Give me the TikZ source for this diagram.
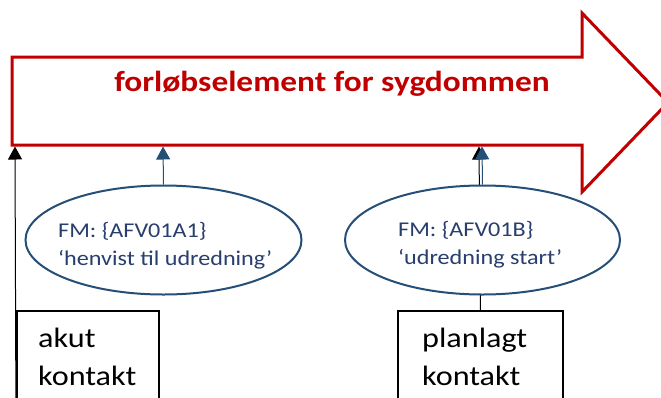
\documentclass[tikz,border=0pt]{standalone}
\usepackage{fontspec}
\setmainfont{Carlito}[FakeStretch=1.15]
\usetikzlibrary{arrows.meta,shapes.geometric}
\definecolor{flowred}{RGB}{192,0,0}
\definecolor{fmblue}{RGB}{38,79,120}
\definecolor{fmtext}{RGB}{40,62,108}
\begin{document}
\begin{tikzpicture}[x=1pt,y=-1pt,
  bigarrow/.style={draw=flowred,line width=3pt,fill=white,line join=miter},
  titletext/.style={text=flowred,font=\bfseries\fontsize{29}{35}\selectfont,inner sep=0pt},
  fmellipse/.style={draw=fmblue,line width=2pt,fill=white},
  fmlabel/.style={text=fmtext,font=\fontsize{21}{28}\selectfont,align=left,inner sep=0pt},
  contactbox/.style={draw=black,line width=1.8pt,fill=white},
  contacttext/.style={font=\fontsize{28}{38}\selectfont,align=left,inner sep=0pt},
  blackarrow/.style={draw=black,line width=1pt,-{Triangle[width=14pt,length=13pt]}},
  bluearrow/.style={draw=fmblue,line width=1pt,-{Triangle[width=14pt,length=13pt]}}]
\useasboundingbox (0,0) rectangle (661,397);
\clip (0,0) rectangle (661,397);

% the disease course arrow
\draw[bigarrow] (12,57) -- (582,57) -- (582,13) -- (668,102.5) -- (582,192)
  -- (582,145) -- (12,145) -- cycle;
\coordinate (bodyA) at (15,146.5);
\coordinate (bodyB) at (163,146.5);
\coordinate (bodyC) at (479,146.5);
\coordinate (bodyD) at (482,146.5);
\node[titletext,anchor=base] (title) at (332,91) {forløbselement for sygdommen};

% contact boxes (they run on below the lower edge)
\node[contactbox,minimum width=142pt,minimum height=120pt,anchor=north west] (akut) at (16,310) {};
\node[contactbox,minimum width=165pt,minimum height=120pt,anchor=north west] (planlagt) at (397,310) {};
% base anchor of a two-line node sits on the last line
\node[contacttext,anchor=base west] (akuttxt) at (38,385) {akut\\kontakt};
\node[contacttext,anchor=base west] (planlagttxt) at (422,385) {planlagt\\kontakt};

% connectors from the contacts
\draw[blackarrow] (akut.south west) -- (bodyA);
\draw[blackarrow] (planlagt.north) -- (bodyC);

% FM ellipses
\node[fmellipse,ellipse,minimum width=276pt,minimum height=109pt] (fm1) at (163.5,240) {};
\node[fmellipse,ellipse,minimum width=275pt,minimum height=109pt] (fm2) at (482.5,240) {};
\node[fmlabel,anchor=base west] (fm1txt) at (58,265) {FM: \{AFV01A1\}\\‘henvist til udredning’};
\node[fmlabel,anchor=base west] (fm2txt) at (398,264) {FM: \{AFV01B\}\\‘udredning start’};

\draw[bluearrow] (fm1.north) -- (bodyB);
\draw[bluearrow] (fm2.north) -- (bodyD);
\end{tikzpicture}
\end{document}
